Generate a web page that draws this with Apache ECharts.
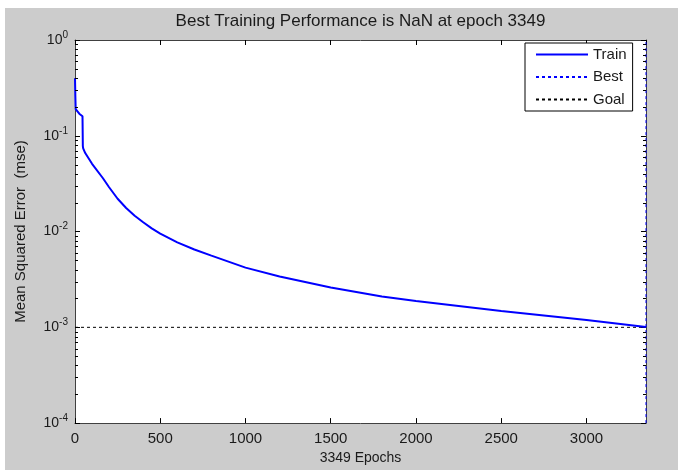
<!DOCTYPE html>
<html>
<head>
<meta charset="utf-8">
<title>Best Training Performance</title>
<script src="https://cdn.jsdelivr.net/npm/echarts@6/dist/echarts.min.js"></script>
<style>
    html, body { margin: 0; padding: 0; background: #ffffff; }
    #chart { position: absolute; left: 5px; top: 8px; width: 673px; height: 462px; background: #cccccc; }
</style>
</head>
<body>
<div id="chart"></div>
<script>
// 训练曲线 (epoch, mse)
const trainEpochs = [0, 2, 4, 25, 44, 46, 48, 60, 100, 164, 200, 250, 300, 350, 400, 450, 500, 600, 700, 800, 1000, 1200, 1500, 1800, 2000, 2500, 3000, 3349];
const trainMse = [0.40, 0.26, 0.19, 0.17, 0.16, 0.078, 0.074, 0.066, 0.051, 0.036, 0.029, 0.022, 0.0176, 0.0146, 0.0125, 0.0108, 0.0095, 0.0077, 0.0065, 0.0056, 0.0042, 0.0034, 0.0026, 0.0021, 0.00188, 0.00148, 0.00119, 0.00101];

const bestEpoch = 3349;
const goalMse = 0.001;
const yMin = 1e-4;
const yMax = 1;
const xMax = 3349;

// 对数坐标次刻度 2..9 x 10^k
const minorDecades = [1e-4, 1e-3, 1e-2, 1e-1];
const minorSteps = [2, 3, 4, 5, 6, 7, 8, 9];

const FONT = '"Liberation Sans", Arial, sans-serif';
const AXIS_COLOR = '#404040';
const TEXT_COLOR = '#1a1a1a';

const minorTicks = [];
minorDecades.forEach(d => minorSteps.forEach(s => minorTicks.push([0, d * s])));

const chart = echarts.init(document.getElementById('chart'));

const baseAxisX = {
    type: 'value',
    min: 0,
    max: xMax,
    interval: 500,
    splitLine: { show: false },
    axisLine: { show: true, onZero: false, lineStyle: { color: AXIS_COLOR, width: 1 } },
    axisTick: { show: true, inside: true, length: 5, lineStyle: { color: '#000' } }
};

const baseAxisY = {
    type: 'log',
    logBase: 10,
    min: yMin,
    max: yMax,
    splitLine: { show: false },
    axisLine: { show: true, onZero: false, lineStyle: { color: AXIS_COLOR, width: 1 } },
    axisTick: { show: true, inside: true, length: 5, lineStyle: { color: '#000' } }
};

const option = {
    animation: false,
    textStyle: { fontFamily: FONT },
    grid: {
        left: 69, top: 29, width: 572, height: 391,
        show: true, backgroundColor: '#ffffff', borderWidth: 0,
        containLabel: false
    },
    legend: {
        orient: 'vertical',
        left: 520,
        top: 35,
        data: ['Train', 'Best', 'Goal'],
        backgroundColor: '#ffffff',
        borderColor: '#000000',
        borderWidth: 1,
        borderRadius: 0,
        padding: [4, 6, 4, 10],
        itemWidth: 52,
        itemHeight: 14,
        itemGap: 7.5,
        itemStyle: { opacity: 0, borderWidth: 0 },
        textStyle: { fontFamily: FONT, fontSize: 15, color: TEXT_COLOR }
    },
    xAxis: [
        Object.assign({}, baseAxisX, {
            position: 'bottom',
            name: '3349 Epochs',
            nameLocation: 'middle',
            nameGap: 27,
            nameTextStyle: { fontFamily: FONT, fontSize: 14, color: TEXT_COLOR },
            axisLabel: {
                show: true, showMaxLabel: false, margin: 8,
                formatter: v => String(v),
                fontFamily: FONT, fontSize: 15, color: TEXT_COLOR
            }
        }),
        Object.assign({}, baseAxisX, {
            position: 'top',
            name: 'Best Training Performance is NaN at epoch 3349',
            nameLocation: 'middle',
            nameGap: 10,
            nameTextStyle: { fontFamily: FONT, fontSize: 17, color: TEXT_COLOR },
            axisLabel: { show: false }
        })
    ],
    yAxis: [
        Object.assign({}, baseAxisY, {
            position: 'left',
            name: 'Mean Squared Error  (mse)',
            nameLocation: 'middle',
            nameGap: 47,
            nameTextStyle: { fontFamily: FONT, fontSize: 15, color: TEXT_COLOR },
            axisLabel: {
                show: true,
                margin: 7,
                formatter: v => '{b|10}{s|' + Math.round(Math.log10(v)) + '}',
                rich: {
                    b: { fontFamily: FONT, fontSize: 14, color: TEXT_COLOR },
                    s: { fontFamily: FONT, fontSize: 10, color: TEXT_COLOR, padding: [0, 0, 10, 0] }
                }
            }
        }),
        Object.assign({}, baseAxisY, {
            position: 'right',
            axisLabel: { show: false }
        })
    ],
    series: [
        {
            name: 'Train',
            type: 'line',
            xAxisIndex: 0,
            yAxisIndex: 0,
            showSymbol: false,
            symbol: 'none',
            data: trainEpochs.map((e, i) => [e, trainMse[i]]),
            lineStyle: { color: '#0000ff', width: 2 },
            itemStyle: { color: '#0000ff' },
            z: 3
        },
        {
            name: 'Best',
            type: 'line',
            showSymbol: false,
            symbol: 'none',
            data: [[bestEpoch, yMin], [bestEpoch, yMax]],
            lineStyle: { color: '#0000ff', width: 1, type: [3, 3] },
            itemStyle: { color: '#0000ff' },
            z: 4
        },
        {
            name: 'Goal',
            type: 'line',
            showSymbol: false,
            symbol: 'none',
            data: [[0, goalMse], [xMax, goalMse]],
            lineStyle: { color: '#000000', width: 1, type: [3, 3] },
            itemStyle: { color: '#000000' },
            z: 2
        },
        {
            // 对数次刻度 (左右两侧)
            type: 'custom',
            silent: true,
            clip: false,
            z: 5,
            data: minorTicks,
            renderItem: (params, api) => {
                const cs = params.coordSys;
                const y = Math.round(api.coord([0, api.value(1)])[1]) + 0.5;
                const style = { stroke: '#000', lineWidth: 1 };
                return {
                    type: 'group',
                    children: [
                        { type: 'line', shape: { x1: cs.x, y1: y, x2: cs.x + 3, y2: y }, style },
                        { type: 'line', shape: { x1: cs.x + cs.width - 3, y1: y, x2: cs.x + cs.width, y2: y }, style }
                    ]
                };
            }
        }
    ]
};

chart.setOption(option);
window.addEventListener('resize', () => chart.resize());
</script>
</body>
</html>
